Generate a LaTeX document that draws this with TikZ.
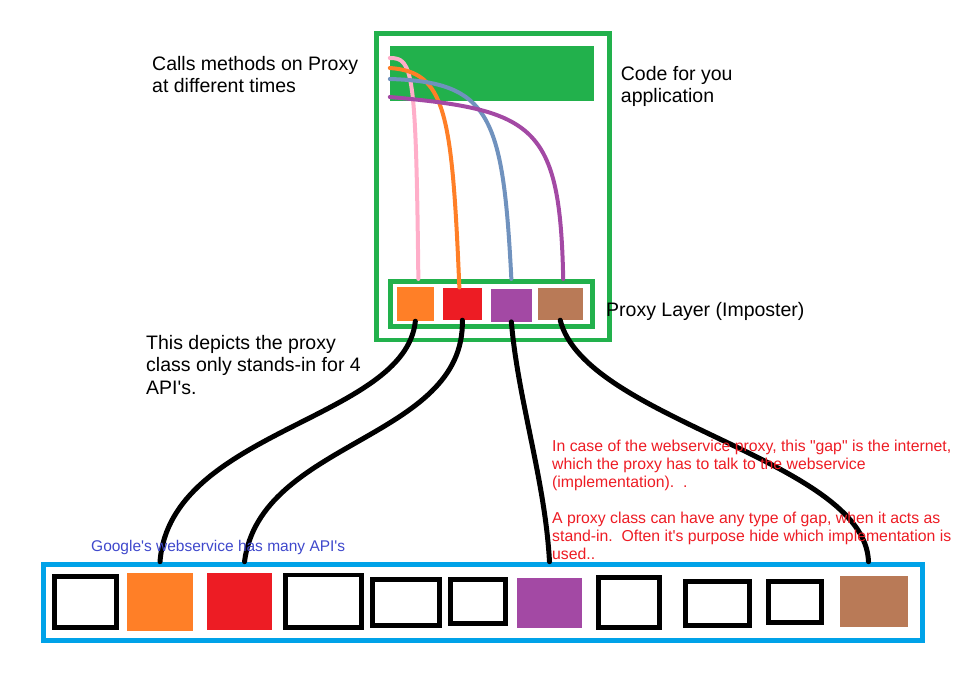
\documentclass[tikz,border=0pt]{standalone}
\usepackage{fontspec}
\setmainfont{Liberation Sans}
\definecolor{paintgreen}{HTML}{22B14C}
\definecolor{paintorange}{HTML}{FF7F27}
\definecolor{paintred}{HTML}{ED1C24}
\definecolor{paintpurple}{HTML}{A349A4}
\definecolor{paintbrown}{HTML}{B97A57}
\definecolor{paintpink}{HTML}{FFAEC9}
\definecolor{paintsteel}{HTML}{7092BE}
\definecolor{paintblue}{HTML}{00A2E8}
\definecolor{paintindigo}{HTML}{3F48CC}
\begin{document}
\begin{tikzpicture}[x=1pt,y=-1pt,
	frame/.style={draw=paintgreen,line width=4.7pt,inner sep=0pt},
	apibox/.style={draw=black,line width=4.7pt,inner sep=0pt},
	fillbox/.style={inner sep=0pt},
	wire/.style={line width=5pt,line cap=round},
	call/.style={line width=4pt,line cap=round},
	big/.style={font=\fontsize{19.5}{22.5}\selectfont,align=left,anchor=base west,inner sep=0pt},
	small/.style={font=\fontsize{15.5}{18}\selectfont,align=left,anchor=base west,inner sep=0pt}]
	\useasboundingbox (0,0) rectangle (979,679);
	\node[frame,minimum width=233pt,minimum height=306.5pt] (app) at (493,186.75) {};
	\node[fillbox,fill=paintgreen,minimum width=204pt,minimum height=55.3pt] (code) at (492,73.35) {};
	\node[frame,minimum width=201.7pt,minimum height=45.4pt] (layer) at (491.35,304) {};
	\node[fillbox,fill=paintorange,minimum width=37.3pt,minimum height=34.3pt] (p1) at (415.35,303.85) {};
	\node[fillbox,fill=paintred,minimum width=39.3pt,minimum height=32.3pt] (p2) at (462.35,303.85) {};
	\node[fillbox,fill=paintpurple,minimum width=41.3pt,minimum height=32.4pt] (p3) at (511.35,305.5) {};
	\node[fillbox,fill=paintbrown,minimum width=45pt,minimum height=32.3pt] (p4) at (560.2,303.85) {};
	\node[draw=paintblue,line width=5pt,inner sep=0pt,minimum width=879pt,minimum height=76pt] (svc) at (482.8,602.2) {};
	\node[apibox,minimum width=62pt,minimum height=51pt] (a1) at (85.35,601.85) {};
	\node[fillbox,fill=paintorange,minimum width=66pt,minimum height=58.3pt] (a2) at (160,601.85) {};
	\node[fillbox,fill=paintred,minimum width=65pt,minimum height=57.3pt] (a3) at (239.5,601.35) {};
	\node[apibox,minimum width=76pt,minimum height=52.6pt] (a4) at (323.35,601.35) {};
	\node[apibox,minimum width=67.3pt,minimum height=46pt] (a5) at (406,602.35) {};
	\node[apibox,minimum width=55.3pt,minimum height=44.3pt] (a6) at (478,601.5) {};
	\node[fillbox,fill=paintpurple,minimum width=65pt,minimum height=49.7pt] (a7) at (549.5,602.85) {};
	\node[apibox,minimum width=61pt,minimum height=50.3pt] (a8) at (628.85,602.5) {};
	\node[apibox,minimum width=64pt,minimum height=44pt] (a9) at (717.35,603.35) {};
	\node[apibox,minimum width=53.3pt,minimum height=41.3pt] (a10) at (795,602) {};
	\node[fillbox,fill=paintbrown,minimum width=68pt,minimum height=51pt] (a11) at (874,601.2) {};
	\draw[call,paintpink] ([yshift=15.35pt]code.west) .. controls (413,58) and (416,70) .. ([xshift=3pt]p1 |- layer.north);
	\draw[call,paintorange] ([yshift=5.35pt]code.west) .. controls (445,72) and (452,110) .. ([xshift=-3pt]p2.north);
	\draw[call,paintsteel] ([yshift=-5.65pt]code.west) .. controls (490,82) and (503,115) .. (p3 |- layer.north);
	\draw[call,paintpurple] ([yshift=-23.65pt]code.west) .. controls (535,110) and (560,125) .. ([xshift=3pt]p4 |- layer.north);
	\draw[wire] (p1.south) .. controls (405,420) and (170,430) .. (a2 |- svc.north);
	\draw[wire] (p2.south) .. controls (465,440) and (260,440) .. ([xshift=5pt]a3 |- svc.north);
	\draw[wire] (p3.south) .. controls (518,400) and (545,480) .. (a7 |- svc.north);
	\draw[wire] (p4.south) .. controls (585,420) and (865,460) .. ([xshift=-5.5pt]a11 |- svc.north);
	\node[big] (calls) at (152,92.7) {Calls methods on Proxy\\at different times};
	\node[big] (codelabel) at (620.7,103) {Code for you\\application};
	\node[big] (layerlabel) at (606,316) {Proxy Layer (Imposter)};
	\node[big] (depicts) at (146,394) {This depicts the proxy\\class only stands-in for 4\\API\textquotesingle s.};
	\node[small,font=\fontsize{15.8}{18}\selectfont,text=paintred] (gap) at (552,559.5) {In case of the webservice proxy, this \textquotedbl gap\textquotedbl{} is the internet,\\which the proxy has to talk to the webservice\\(implementation).\ \ .\\[18pt]A proxy class can have any type of gap, when it acts as\\stand-in.\ \ Often it\textquotesingle s purpose hide which implementation is\\used..};
	\node[small,text=paintindigo] (many) at (91,551.7) {Google\textquotesingle s webservice has many API\textquotesingle s};
\end{tikzpicture}
\end{document}
